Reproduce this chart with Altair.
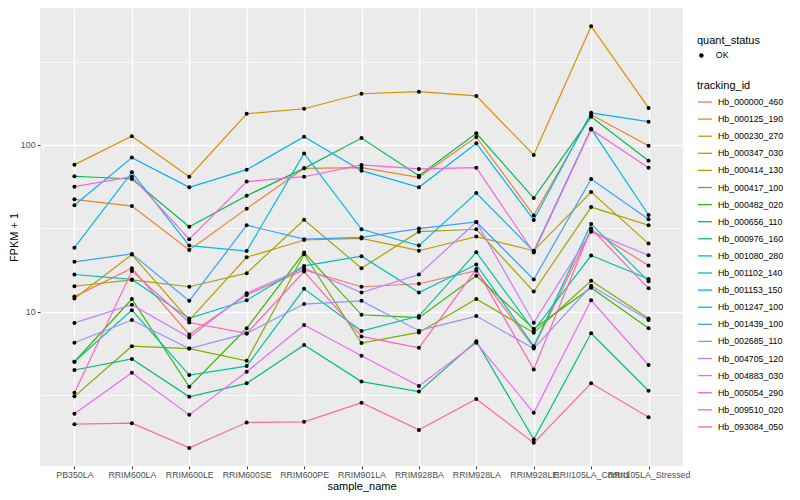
import altair as alt
import pandas as pd

samples = ["PB350LA", "RRIM600LA", "RRIM600LE", "RRIM600SE", "RRIM600PE", "RRIM901LA",
           "RRIM928BA", "RRIM928LA", "RRIM928LE", "RRII105LA_Control", "RRII105LA_Stressed"]

tracking_ids = ["Hb_000000_460", "Hb_000125_190", "Hb_000230_270", "Hb_000347_030", "Hb_000414_130",
                "Hb_000417_100", "Hb_000482_020", "Hb_000656_110", "Hb_000976_160", "Hb_001080_280",
                "Hb_001102_140", "Hb_001153_150", "Hb_001247_100", "Hb_001439_100", "Hb_002685_110",
                "Hb_004705_120", "Hb_004883_030", "Hb_005054_290", "Hb_009510_020", "Hb_093084_050"]

palette = ["#F8766D", "#EA8331", "#D89000", "#C09B00", "#A3A500", "#7CAE00", "#39B600", "#00BB4E",
           "#00BF7D", "#00C1A3", "#00BFC4", "#00BAE0", "#00B0F6", "#35A2FF", "#9590FF", "#C77CFF",
           "#E76BF3", "#FA62DB", "#FF62BC", "#FF6C90"]

# FPKM + 1 per sample (same order as samples)
hb_000000_460 = [12.3, 18.2, 7.3, 12.6, 17.8, 14.1, 14.7, 17.6, 6.1, 30.9, 18.9]
hb_000125_190 = [47.2, 43.0, 23.4, 41.5, 72.4, 73.1, 64.0, 111.7, 37.8, 152, 99]
hb_000230_270 = [76.2, 113, 64.5, 154, 165, 203, 209, 197, 87.1, 516, 167]
hb_000347_030 = [12.0, 22.0, 8.9, 21.2, 26.9, 27.5, 23.2, 28.2, 23.2, 52.2, 25.6]
hb_000414_130 = [14.2, 15.5, 14.1, 17.0, 35.6, 18.2, 30.2, 31.2, 13.2, 42.4, 33.0]
hb_000417_100 = [3.1, 6.2, 6.0, 5.07, 22.1, 6.47, 7.5, 11.9, 7.47, 15.3, 9.1]
hb_000482_020 = [5.0, 11.9, 3.54, 7.94, 22.6, 9.57, 9.2, 16.4, 7.9, 13.9, 7.94]
hb_000656_110 = [64.9, 62.5, 32.3, 49.6, 72.4, 110, 65.4, 117.5, 48.0, 147.5, 80.5]
hb_000976_160 = [4.46, 5.2, 3.08, 3.71, 6.3, 3.8, 3.31, 6.65, 1.71, 7.41, 3.35]
hb_001080_280 = [5.0, 10.2, 4.16, 4.71, 13.7, 7.64, 9.4, 22.7, 7.7, 21.7, 15.7]
hb_001102_140 = [16.7, 15.6, 9.1, 11.7, 18.8, 21.5, 13.0, 19.2, 6.2, 33.6, 15.2]
hb_001153_150 = [24.2, 68.5, 24.9, 23.1, 89.0, 31.2, 24.9, 51.5, 23.0, 125, 38.0]
hb_001247_100 = [43.5, 84.0, 55.7, 71.1, 112, 70.1, 55.7, 102.4, 35.5, 156, 138]
hb_001439_100 = [19.9, 22.2, 11.6, 33.0, 27.2, 27.9, 31.5, 34.5, 15.6, 62.5, 35.8]
hb_002685_110 = [6.5, 8.9, 6.0, 7.4, 11.1, 11.6, 7.68, 9.4, 6.0, 14.3, 8.9]
hb_004705_120 = [8.55, 11.0, 7.0, 12.9, 18.2, 13.0, 16.7, 34.5, 8.58, 30.1, 21.8]
hb_004883_030 = [2.44, 4.3, 2.4, 4.36, 8.3, 5.43, 3.58, 6.5, 2.47, 11.7, 4.78]
hb_005054_290 = [56.2, 64.5, 27.2, 60.3, 64.5, 75.9, 71.8, 73.1, 22.6, 124, 73.0]
hb_009510_020 = [3.26, 17.5, 8.6, 7.4, 17.4, 7.1, 6.06, 18.0, 4.5, 31.5, 13.8]
hb_093084_050 = [2.11, 2.14, 1.52, 2.16, 2.18, 2.84, 1.95, 2.99, 1.63, 3.71, 2.32]

series = [hb_000000_460, hb_000125_190, hb_000230_270, hb_000347_030, hb_000414_130,
          hb_000417_100, hb_000482_020, hb_000656_110, hb_000976_160, hb_001080_280,
          hb_001102_140, hb_001153_150, hb_001247_100, hb_001439_100, hb_002685_110,
          hb_004705_120, hb_004883_030, hb_005054_290, hb_009510_020, hb_093084_050]

rows = []
for tid, vals in zip(tracking_ids, series):
    for s, v in zip(samples, vals):
        rows.append({"tracking_id": tid, "sample_name": s, "fpkm1": v, "quant_status": "OK"})
df = pd.DataFrame(rows)

major = "datum.value == 10 || datum.value == 100"

x_enc = alt.X("sample_name:N", title="sample_name",
              scale=alt.Scale(type="point", padding=0.6, domain=samples),
              axis=alt.Axis(labelAngle=0, labelOverlap=False, labelFlush=False, tickSize=2.75,
                            labelPadding=2.2, domain=False, grid=True, gridColor="white",
                            gridWidth=1.4, tickColor="#333333", labelColor="#4D4D4D",
                            labelFontSize=8.8, titleFontSize=11, titlePadding=1,
                            titleFontWeight="normal", titleColor="black"))

y_enc = alt.Y("fpkm1:Q", title="FPKM + 1",
              scale=alt.Scale(type="log", domain=[1.184, 664], nice=False),
              axis=alt.Axis(values=[3.16228, 10, 31.6228, 100, 316.228],
                            labelExpr="(datum.value == 10 || datum.value == 100) ? format(datum.value, 'd') : ''",
                            tickSize=2.75, labelPadding=2.2, domain=False, grid=True,
                            gridColor="white",
                            gridWidth={"condition": {"test": major, "value": 1.4}, "value": 0.7},
                            tickOpacity={"condition": {"test": major, "value": 1}, "value": 0},
                            tickColor="#333333", labelColor="#4D4D4D", labelFontSize=8.8,
                            titleFontSize=11, titlePadding=1, titleFontWeight="normal",
                            titleColor="black"))

lines = alt.Chart(df).mark_line(strokeWidth=1.2).encode(
    x=x_enc, y=y_enc,
    color=alt.Color("tracking_id:N", title="tracking_id",
                    scale=alt.Scale(domain=tracking_ids, range=palette),
                    legend=alt.Legend(orient="none", legendX=657, legendY=71.5,
                                      symbolType="stroke", symbolSize=196, symbolStrokeWidth=1.3,
                                      rowPadding=4.1, titlePadding=3.5, labelOffset=5,
                                      labelFontSize=8.8, titleFontSize=11, labelColor="black",
                                      titleColor="black", titleFontWeight="normal", padding=0,
                                      symbolOpacity=1, labelLimit=200))
)

points = alt.Chart(df).mark_point(filled=True, color="black", size=16, opacity=1).encode(
    x=x_enc, y=y_enc,
    shape=alt.Shape("quant_status:N", title="quant_status",
                    scale=alt.Scale(domain=["OK"], range=["circle"]),
                    legend=alt.Legend(orient="none", legendX=657, legendY=27,
                                      symbolSize=20, symbolFillColor="black",
                                      symbolStrokeColor="black", titlePadding=5,
                                      labelOffset=10, labelFontSize=8.8, titleFontSize=11,
                                      labelColor="black", titleColor="black",
                                      titleFontWeight="normal", padding=0))
)

chart = alt.layer(lines, points).properties(
    width=643, height=458,
    autosize=alt.AutoSizeParams(type="none"),
    padding={"left": 32, "top": 0, "right": 104, "bottom": 26}
).configure(
    font="Liberation Sans"
).configure_view(fill="#EBEBEB", strokeWidth=0)

chart.save("out.html", embed_options={"renderer": "svg", "actions": False})
